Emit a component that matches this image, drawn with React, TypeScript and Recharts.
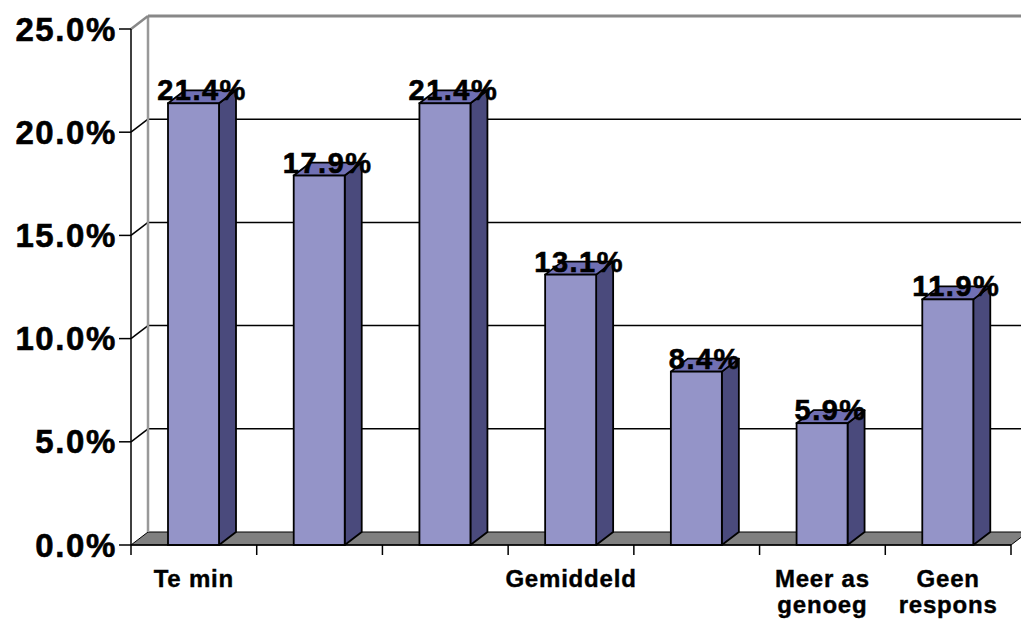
import React from 'react';
import { BarChart, Bar, XAxis, YAxis, CartesianGrid, LabelList } from 'recharts';

const categories = ['Te min', '', '', 'Gemiddeld', '', 'Meer as\ngenoeg', 'Geen\nrespons'];
const values = [21.4, 17.9, 21.4, 13.1, 8.4, 5.9, 11.9];
const yTicks = [0, 5, 10, 15, 20, 25];

const data = categories.map((c, i) => ({ name: c, value: values[i] }));

const DX = 17;
const DY = 13;
const W = 1021;
const H = 625;
const M = { top: 29, right: 10, bottom: 0, left: 0 };
const Y_W = 131;
const X_H = 80;
const plotWidth = W - M.left - M.right - Y_W;
const halfBand = plotWidth / categories.length / 2;
const FONT = '"Liberation Sans", Arial, Helvetica, sans-serif';

const FRONT = '#9494C8';
const SIDE = '#4A4A7C';
const TOP = '#7070B4';

const gridLine = (p: any) => {
  const { x1, y1, x2, y, height } = p;
  const isTop = Math.abs(y1 - y) < 0.5;
  const isBottom = Math.abs(y1 - (y + height)) < 0.5;
  if (isBottom) {
    return (
      <g key={p.key}>
        <polygon
          points={`${x1},${y1} ${x1 + DX},${y1 - DY} ${x2 + DX},${y1 - DY} ${x2},${y1}`}
          fill="#808080"
          stroke="#000"
          strokeWidth={1}
        />
      </g>
    );
  }
  if (isTop) {
    return (
      <g key={p.key}>
        <line x1={x1 + DX} y1={y1 - DY} x2={x1 + DX} y2={y + height - DY} stroke="#999" strokeWidth={2.5} />
        <line x1={x1} y1={y1} x2={x1 + DX} y2={y1 - DY} stroke="#888" strokeWidth={2.5} />
        <line x1={x1 + DX} y1={y1 - DY} x2={x2 + DX + 20} y2={y1 - DY} stroke="#888" strokeWidth={3} />
      </g>
    );
  }
  return (
    <g key={p.key}>
      <line x1={x1} y1={y1} x2={x1 + DX} y2={y1 - DY} stroke="#000" strokeWidth={1.5} />
      <line x1={x1 + DX} y1={y1 - DY} x2={x2 + DX + 20} y2={y1 - DY} stroke="#000" strokeWidth={1.5} />
    </g>
  );
};

const Bar3D = (p: any) => {
  const { x, y, width, height } = p;
  if (height <= 0) return null;
  const side = `${x + width},${y} ${x + width + DX},${y - DY} ${x + width + DX},${y + height - DY} ${x + width},${y + height}`;
  const top = `${x},${y} ${x + DX},${y - DY} ${x + width + DX},${y - DY} ${x + width},${y}`;
  return (
    <g>
      <polygon points={side} fill={SIDE} stroke="#000" strokeWidth={1.8} strokeLinejoin="round" />
      <polygon points={top} fill={TOP} stroke="#000" strokeWidth={1.8} strokeLinejoin="round" />
      <rect x={x} y={y} width={width} height={height} fill={FRONT} stroke="#000" strokeWidth={1.8} />
    </g>
  );
};

const renderLabel = (p: any) => {
  const { x, y, width, value } = p;
  return (
    <text
      x={x + (width + DX) / 2}
      y={y - 3}
      textAnchor="middle"
      fontFamily={FONT}
      fontWeight="bold"
      fontSize={29}
      letterSpacing={1.5}
      fill="#000"
      stroke="#000"
      strokeWidth={0.6}
    >
      {Number(value).toFixed(1)}%
    </text>
  );
};

const YTick = (p: any) => {
  const { x, y, payload } = p;
  return (
    <text
      x={x}
      y={y}
      textAnchor="end"
      dominantBaseline="central"
      fontFamily={FONT}
      fontWeight="bold"
      fontSize={33}
      letterSpacing={1.6}
      fill="#000"
      stroke="#000"
      strokeWidth={0.6}
    >
      {Number(payload.value).toFixed(1)}%
    </text>
  );
};

const XTick = (p: any) => {
  const { x, y, payload, index } = p;
  const lines = String(payload.value).split('\n');
  return (
    <g>
      <line x1={x - halfBand} y1={y - 10} x2={x - halfBand} y2={y} stroke="#000" strokeWidth={1.5} />
      {index === categories.length - 1 && (
        <line x1={x + halfBand} y1={y - 10} x2={x + halfBand} y2={y} stroke="#000" strokeWidth={1.5} />
      )}
      {lines.map((l, i) => (
        <text
          key={i}
          x={x}
          y={y + 32 + i * 26}
          textAnchor="middle"
          fontFamily={FONT}
          fontWeight="bold"
          fontSize={24}
          letterSpacing={0.8}
          fill="#000"
          stroke="#000"
          strokeWidth={0.4}
        >
          {l}
        </text>
      ))}
    </g>
  );
};

export default function App() {
  return (
    <div style={{ position: 'absolute', left: 0, top: 0, width: W, height: H, background: '#fff' }}>
      <BarChart width={W} height={H} data={data} margin={M}>
        <CartesianGrid horizontal={gridLine} vertical={false} />
        <XAxis
          dataKey="name"
          interval={0}
          tickLine={false}
          tickSize={10}
          tickMargin={0}
          height={X_H}
          axisLine={{ stroke: '#000', strokeWidth: 1.5 }}
          tick={<XTick />}
        />
        <YAxis
          width={Y_W}
          domain={[0, 25]}
          ticks={yTicks}
          tickSize={12}
          tickMargin={2}
          axisLine={{ stroke: '#000', strokeWidth: 1.5 }}
          tickLine={{ stroke: '#000', strokeWidth: 1.5 }}
          tick={<YTick />}
        />
        <Bar dataKey="value" barSize={51} shape={<Bar3D />} isAnimationActive={false}>
          <LabelList dataKey="value" content={renderLabel} />
        </Bar>
      </BarChart>
    </div>
  );
}
